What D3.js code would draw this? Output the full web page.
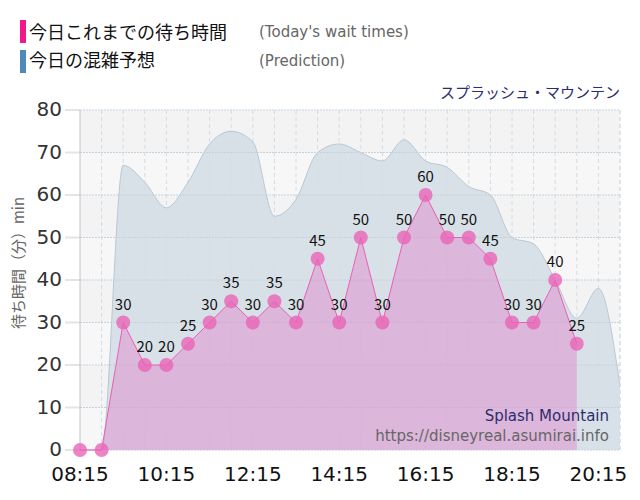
<!DOCTYPE html>
<html><head><meta charset="utf-8">
<script src="https://cdn.jsdelivr.net/npm/d3@7"></script>
<style>
body{margin:0;background:#fff;}
svg{display:block;font-family:"Noto Sans CJK JP","DejaVu Sans",sans-serif;}
</style></head><body>
<svg id="c" width="640" height="500"></svg>
<script>
const actualTimes = ["08:15","08:45","09:15","09:45","10:15","10:45","11:15","11:45","12:15","12:45","13:15","13:45","14:15","14:45","15:15","15:45","16:15","16:45","17:15","17:45","18:15","18:45","19:15","19:45"];
const actualValues = [0,0,30,20,20,25,30,35,30,35,30,45,30,50,30,50,60,50,50,45,30,30,40,25];
const predTimes = ["08:15","08:45","09:15","09:45","10:15","10:45","11:15","11:45","12:15","12:45","13:15","13:45","14:15","14:45","15:15","15:45","16:15","16:45","17:15","17:45","18:15","18:45","19:15","19:45","20:15","20:45"];
const predValues = [0,0,67,63,57,63,72,75,72.5,55,59,70,72,70,68,73,68,66.5,62,60,50,48.5,40,31,38,15];
const yTicks = [0,10,20,30,40,50,60,70,80];
const xTickLabels = ["08:15","10:15","12:15","14:15","16:15","18:15","20:15"];

const svg = d3.select("#c");
const parse = s => { const [h,m]=s.split(":").map(Number); return h*60+m; };
const L=80,R=620,T=110,B=450;
const x = d3.scaleLinear().domain([parse("08:15"), parse("20:45")]).range([L,R]);
const y = d3.scaleLinear().domain([0,80]).range([B,T]);

// plot background
svg.append("rect").attr("x",L).attr("y",T).attr("width",R-L).attr("height",B-T).attr("fill","#f3f3f3");
yTicks.slice(0,-1).forEach((v,i)=>{ if(i%2===0) svg.append("rect").attr("x",L).attr("y",y(v+10)).attr("width",R-L).attr("height",y(v)-y(v+10)).attr("fill","#f7f7f7"); });

// vertical dashed grid every 30 min
const vt = d3.range(parse("08:45"), parse("20:45")+1, 30);
svg.append("g").selectAll("line").data(vt).join("line")
 .attr("x1",d=>x(d)).attr("x2",d=>x(d)).attr("y1",T).attr("y2",B)
 .attr("stroke","#d2dce6").attr("stroke-dasharray","4,3");

// prediction area
const pred = predTimes.map((t,i)=>({t:parse(t),v:predValues[i]}));
const areaP = d3.area().x(d=>x(d.t)).y0(y(0)).y1(d=>y(d.v)).curve(d3.curveMonotoneX);
const lineP = d3.line().x(d=>x(d.t)).y(d=>y(d.v)).curve(d3.curveMonotoneX);
svg.append("path").datum(pred).attr("d",areaP).attr("fill","#d5dee6").attr("fill-opacity",0.9);
svg.append("path").datum(pred).attr("d",lineP).attr("fill","none").attr("stroke","#b9c8d5").attr("stroke-width",1);

// horizontal dotted grid
svg.append("g").selectAll("line").data(yTicks).join("line")
 .attr("x1",L).attr("x2",R).attr("y1",d=>y(d)).attr("y2",d=>y(d))
 .attr("stroke","#c5d2de").attr("stroke-dasharray","2,1");
svg.append("g").selectAll("line").data(yTicks).join("line")
 .attr("x1",65).attr("x2",L).attr("y1",d=>y(d)).attr("y2",d=>y(d))
 .attr("stroke","#e4e4e4").attr("stroke-width",2);
svg.append("line").attr("x1",L).attr("x2",L).attr("y1",T).attr("y2",B).attr("stroke","#c0c4cc");
svg.append("line").attr("x1",R).attr("x2",R).attr("y1",T).attr("y2",B).attr("stroke","#d2dce6").attr("stroke-dasharray","4,3");

// actual area
const act = actualTimes.map((t,i)=>({t:parse(t),v:actualValues[i]}));
const areaA = d3.area().x(d=>x(d.t)).y0(y(0)).y1(d=>y(d.v));
const lineA = d3.line().x(d=>x(d.t)).y(d=>y(d.v));
svg.append("path").datum(act).attr("d",areaA).attr("fill","#e37cc9").attr("fill-opacity",0.42);
svg.append("path").datum(act).attr("d",lineA).attr("fill","none").attr("stroke","#ea5fb4").attr("stroke-width",1);
svg.append("g").selectAll("circle").data(act).join("circle")
 .attr("cx",d=>x(d.t)).attr("cy",d=>y(d.v)).attr("r",7)
 .attr("fill","#e865b6").attr("fill-opacity",0.8);
svg.append("g").selectAll("text").data(act.filter(d=>d.v>0)).join("text")
 .attr("x",d=>x(d.t)).attr("y",d=>y(d.v)-13).attr("text-anchor","middle")
 .attr("font-size",15).attr("fill","#111").text(d=>d.v);

// y axis labels
svg.append("g").selectAll("text").data(yTicks).join("text")
 .attr("x",62).attr("y",d=>y(d)+6).attr("text-anchor","end")
 .attr("font-size",20).attr("fill","#333").attr("font-family","DejaVu Sans, sans-serif").text(d=>d);
// x axis labels
svg.append("g").selectAll("text").data(xTickLabels).join("text")
 .attr("x",d=>x(parse(d))).attr("y",481).attr("text-anchor","middle")
 .attr("font-size",20).attr("fill","#111").attr("font-family","DejaVu Sans, sans-serif").text(d=>d);

// y axis title
svg.append("text").attr("transform","translate(24,263) rotate(-90)").attr("text-anchor","middle")
 .attr("font-size",15).attr("fill","#666").text("待ち時間（分）min");

// legend
svg.append("rect").attr("x",20).attr("y",20).attr("width",6).attr("height",23).attr("fill","#f0188c");
svg.append("rect").attr("x",20).attr("y",50).attr("width",6).attr("height",23).attr("fill","#4f88ba");
svg.append("text").attr("x",29).attr("y",39).attr("font-size",18).attr("fill","#111").text("今日これまでの待ち時間");
svg.append("text").attr("x",29).attr("y",67).attr("font-size",18).attr("fill","#111").text("今日の混雑予想");
svg.append("text").attr("x",259).attr("y",37).attr("font-size",15).attr("fill","#666").attr("font-family","Verdana, DejaVu Sans, sans-serif").text("(Today's wait times)");
svg.append("text").attr("x",259).attr("y",66).attr("font-size",15).attr("fill","#666").attr("font-family","Verdana, DejaVu Sans, sans-serif").text("(Prediction)");

// ride title
svg.append("text").attr("x",620).attr("y",98).attr("text-anchor","end").attr("font-size",15).attr("fill","#2d2d6e").text("スプラッシュ・マウンテン");

// watermark
svg.append("text").attr("x",609).attr("y",421).attr("text-anchor","end").attr("font-size",15).attr("fill","#2d2d6e").attr("font-family","DejaVu Sans, sans-serif").text("Splash Mountain");
svg.append("text").attr("x",609).attr("y",441).attr("text-anchor","end").attr("font-size",15).attr("fill","#666").attr("font-family","DejaVu Sans, sans-serif").text("https://disneyreal.asumirai.info");
</script></body></html>
